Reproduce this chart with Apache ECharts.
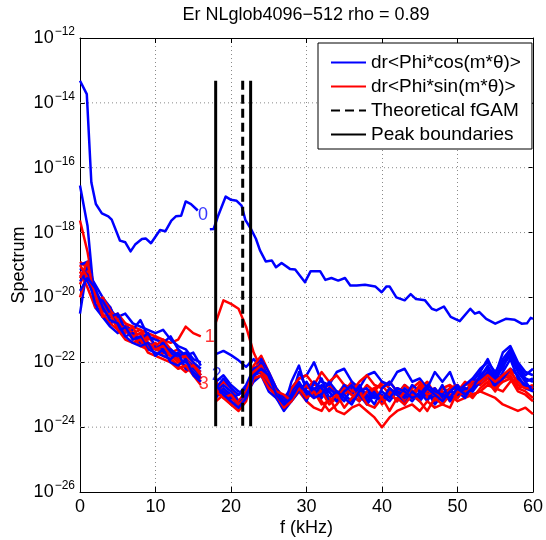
<!DOCTYPE html>
<html><head><meta charset="utf-8">
<script src="https://cdn.jsdelivr.net/npm/echarts@6/dist/echarts.min.js"></script>
<style>html,body{margin:0;padding:0;background:#fff}#c{width:546px;height:540px}</style>
</head><body><div id="c"></div>
<script>
const titleText = 'Er NLglob4096\u2212512 rho = 0.89';
const legendNames = ['dr<Phi*cos(m*\u03b8)>', 'dr<Phi*sin(m*\u03b8)>', 'Theoretical fGAM', 'Peak boundaries'];
const xTicks = [0, 10, 20, 30, 40, 50, 60];
const yTickExponents = [-26, -24, -22, -20, -18, -16, -14, -12];

// m = 0 (blue) : frequency (kHz) and log10(spectrum)
const m0Freq = [0, 0.9, 1.5, 2.1, 2.9, 3.75, 4.2, 5.3, 6.0, 6.7, 7.3, 8.2, 8.7, 9.4, 10.6, 11.3, 12.1, 12.7, 13.4, 14.0, 14.7, 15.6, 16.4, 17.2, 17.7, 18.3, 19.3, 20.0, 20.75, 21.4, 21.9, 22.65, 23.3, 23.84, 24.6, 25.4, 25.96, 26.7, 27.8, 28.5, 29.8, 30.55, 31.8, 32.5, 33.3, 34.2, 35.1, 35.8, 36.65, 37.75, 39.1, 39.96, 40.6, 41.0, 41.9, 43.0, 43.8, 44.5, 45.7, 46.6, 47.2, 48.2, 49.1, 50.3, 51.7, 52.3, 52.9, 53.8, 55.0, 56.4, 57.6, 58.5, 59.2, 59.7, 60];
const m0Log = [-13.32, -13.73, -16.45, -17.12, -17.41, -17.5, -17.6, -18.25, -18.3, -18.58, -18.37, -18.2, -18.18, -18.33, -17.92, -17.96, -17.63, -17.5, -17.48, -17.04, -17.12, -17.32, null, -17.9, -17.89, -17.48, -16.89, -16.99, -17.02, -17.17, -17.61, -17.89, -18.19, -18.55, -18.89, -18.86, -19.07, -18.94, -19.12, -19.14, -19.53, -19.19, -19.19, -19.46, -19.4, -19.48, -19.4, -19.63, -19.63, -19.61, -19.66, -19.84, -19.66, -19.66, -20.0, -20.09, -19.9, -20.05, -20.09, -20.35, -20.4, -20.28, -20.6, -20.73, -20.35, -20.5, -20.45, -20.66, -20.81, -20.66, -20.69, -20.81, -20.8, -20.63, -20.66];

// other modes: frequency grid (kHz) and log10(spectrum)
const modeFreq = [0,1,2,3,4,5,6,7,8,9,10,11,12,13,14,15,16,17,18,19,20,21,22,23,24,25,26,27,28,29,30,31,32,33,34,35,36,37,38,39,40,41,42,43,44,45,46,47,48,49,50,51,52,53,54,55,56,57,58,59,60];

const redM1 = [-17.63,-18.6,-19.9,-20.2,-20.5,-20.6,-20.8,-20.9,-21.0,-21.1,
 -21.2,-21.3,-21.4,-21.3,-20.9,-21.1,-21.2,null,-20.76,-20.09,
 -20.2,-20.35,-20.9,-21.7,-22.2,-22.7,-22.9,-23.2,-23.0,-22.8,
 -22.9,-23.1,-22.8,-22.7,-23.0,-22.9,-22.6,-22.9,-23.1,-22.8,
 -22.7,-23.0,-22.8,-22.9,-23.1,-22.7,-22.9,-23.2,-22.8,-22.9,
 -23.0,-22.7,-22.6,-22.5,-22.3,-22.6,-22.4,-22.5,-22.8,-22.7,
 -22.8];
const blueM2 = [-16.55,-17.8,-20.3,-20.6,-20.8,-20.7,-21.0,-21.2,-21.1,-21.4,
 -21.5,-21.6,-21.8,-21.7,-21.9,-22.1,-22.3,null,-21.75,-21.65,
 -21.78,-21.94,-22.14,-21.9,-22.2,-22.6,-23.0,-23.3,-23.1,-22.3,
 -22.8,-22.6,-23.0,-22.9,-23.2,-22.8,-23.0,-22.7,-23.1,-22.9,
 -23.2,-22.8,-23.0,-22.7,-22.9,-23.1,-22.8,-23.0,-22.9,-23.1,
 -22.8,-22.9,-22.6,-22.3,-21.9,-22.4,-21.7,-21.5,-22.0,-22.3,
 -22.4];
const redM3 = [-18.9,-19.1,-19.9,-20.4,-20.3,-20.9,-21.0,-21.3,-21.2,-21.4,
 -21.6,-21.7,-21.8,-22.0,-22.1,-22.3,-22.6,null,-22.6,-22.9,
 -23.1,-23.3,-22.9,-22.1,-21.8,-22.3,-22.8,-23.1,-22.9,-22.7,
 -22.8,-22.6,-22.9,-22.8,-23.0,-22.7,-22.8,-23.0,-22.7,-22.9,
 -22.6,-22.8,-23.0,-22.7,-22.9,-22.8,-22.6,-23.0,-22.8,-22.7,
 -22.9,-22.6,-22.8,-22.5,-22.4,-22.7,-22.5,-22.3,-22.6,-22.8,
 -22.7];
const blueM4 = [-19.0,-18.9,-19.8,-20.2,-20.4,-20.6,-20.5,-20.8,-20.9,-21.0,
 -21.1,-21.0,-21.3,-21.5,-21.6,-21.9,-22.0,null,-22.6,-22.4,
 -22.7,-22.9,-23.0,-22.3,-21.9,-22.3,-22.8,-23.1,-22.8,-22.5,
 -22.4,-22.0,-22.6,-22.7,-22.3,-22.2,-22.6,-22.8,-22.4,-22.3,
 -22.6,-22.7,-22.3,-22.2,-22.6,-22.5,-22.8,-22.3,-22.6,-22.3,
 -22.9,-22.7,-22.5,-22.2,-22.0,-22.3,-21.9,-21.6,-22.1,-22.4,
 -22.2];
const redM5 = [-19.6,-19.0,-19.8,-20.2,-20.6,-20.5,-20.8,-21.1,-21.0,-21.3,
 -21.2,-21.5,-21.7,-21.6,-21.9,-22.2,-22.3,null,-22.9,-22.6,
 -22.8,-23.2,-23.0,-22.2,-22.0,-22.5,-23.0,-23.4,-23.1,-22.8,
 -23.1,-22.8,-23.2,-23.5,-23.3,-23.0,-22.8,-23.1,-23.2,-22.9,
 -23.3,-23.0,-22.8,-23.1,-23.0,-22.8,-23.1,-23.0,-22.9,-23.2,
 -23.0,-22.9,-23.1,-22.8,-22.6,-22.9,-22.5,-22.4,-22.8,-22.9,
 -23.1];
const blueM6 = [-19.5,-19.2,-19.6,-20.0,-20.3,-20.8,-20.9,-21.0,-20.7,-21.2,
 -21.3,-21.4,-21.2,-21.6,-21.8,-21.7,-22.1,null,-22.9,-22.7,
 -22.9,-23.2,-22.9,-22.5,-22.0,-22.5,-23.0,-23.3,-22.9,-22.6,
 -23.0,-22.8,-23.1,-22.8,-23.0,-23.2,-22.8,-22.9,-23.2,-22.9,
 -23.1,-22.9,-23.2,-22.8,-23.0,-23.2,-22.9,-23.3,-23.0,-22.8,
 -23.1,-22.8,-22.9,-22.4,-22.2,-22.6,-22.1,-21.8,-22.3,-22.6,
 -22.5];
const redM7 = [-19.2,-19.7,-20.3,-20.0,-20.4,-20.7,-21.1,-20.9,-21.4,-21.2,
 -21.5,-21.3,-21.6,-21.9,-21.8,-22.0,-22.4,null,-22.8,-23.1,
 -23.3,-23.5,-23.2,-22.4,-22.2,-22.7,-23.1,-23.3,-22.8,-22.5,
 -22.4,-22.7,-22.3,-22.6,-22.4,-22.7,-22.9,-22.6,-22.4,-22.7,
 -22.8,-22.6,-22.9,-23.2,-22.8,-22.6,-22.9,-22.8,-23.1,-22.8,
 -22.7,-23.0,-22.6,-22.7,-22.5,-22.8,-22.9,-22.6,-22.5,-22.7,
 -22.9];
const blueM8 = [-20.5,-19.0,-19.9,-20.4,-20.6,-20.5,-21.0,-21.2,-21.3,-21.1,
 -21.5,-21.7,-21.6,-21.8,-21.7,-22.0,-22.2,null,-22.8,-22.5,
 -22.8,-23.0,-22.7,-22.2,-22.1,-22.6,-23.1,-23.4,-22.6,-22.1,
 -22.9,-22.9,-22.5,-23.1,-22.9,-23.0,-23.2,-22.8,-23.0,-23.3,
 -22.8,-22.6,-22.9,-23.1,-22.7,-22.9,-23.2,-22.8,-23.1,-22.9,
 -22.7,-23.0,-22.8,-22.6,-22.3,-22.8,-22.5,-22.2,-22.4,-22.8,
 -22.9];
const redM9 = [-20.0,-19.2,-20.0,-20.5,-20.8,-21.0,-20.9,-21.2,-21.5,-21.6,
 -21.4,-21.8,-21.9,-22.1,-22.3,-22.1,-22.5,null,-23.0,-22.8,
 -23.2,-23.4,-23.0,-22.3,-22.1,-22.6,-22.9,-23.2,-23.0,-22.9,
 -23.2,-23.4,-23.5,-23.1,-23.5,-23.6,-23.4,-23.3,-23.5,-23.7,
 -24.0,-23.7,-23.5,-23.4,-23.3,-23.5,-23.2,-23.4,-23.3,-23.0,
 -23.2,-23.1,-23.0,-22.9,-22.7,-22.8,-22.6,-22.5,-22.9,-23.0,
 -23.2];
const blueM10 = [-19.3,-19.5,-20.0,-20.1,-20.5,-20.9,-21.2,-21.1,-21.4,-21.5,
 -21.6,-21.4,-21.7,-21.9,-22.0,-22.2,-22.4,null,-23.0,-22.9,
 -23.1,-23.0,-22.8,-22.4,-22.3,-22.7,-22.9,-23.2,-23.0,-22.8,
 -23.2,-22.6,-22.8,-23.2,-23.1,-22.7,-23.0,-23.2,-22.9,-23.1,
 -23.0,-23.2,-22.9,-23.0,-23.2,-22.9,-23.0,-23.1,-22.7,-23.2,
 -22.9,-23.1,-22.7,-22.5,-22.1,-22.5,-22.0,-21.7,-22.2,-22.5,
 -22.6];
const redM11 = [-19.4,-18.9,-20.1,-20.3,-20.7,-20.8,-21.0,-21.2,-21.1,-21.5,
 -21.6,-21.5,-21.8,-21.9,-22.2,-22.1,-22.4,null,-23.2,-23.0,
 -23.3,-23.2,-22.9,-22.3,-22.3,-22.6,-22.9,-23.0,-23.2,-22.9,
 -22.7,-23.0,-22.9,-23.3,-23.1,-22.8,-23.0,-23.2,-22.9,-22.8,
 -23.1,-22.9,-23.2,-22.9,-23.1,-22.7,-23.0,-22.9,-23.2,-22.9,
 -23.1,-22.8,-23.0,-22.9,-23.0,-23.1,-23.3,-23.4,-23.5,-23.4,
 -23.6];
const blueM12 = [-19.1,-19.3,-20.2,-20.6,-20.9,-21.1,-20.9,-21.3,-21.2,-21.6,
 -21.7,-21.8,-21.9,-21.7,-22.2,-22.3,-22.5,null,-23.1,-22.8,
 -23.0,-23.3,-23.0,-22.6,-22.4,-22.9,-23.1,-23.5,-23.2,-22.9,
 -22.6,-23.0,-22.7,-22.9,-23.2,-22.9,-22.7,-23.0,-23.3,-23.0,
 -23.2,-22.8,-23.0,-23.3,-22.9,-23.1,-22.8,-23.0,-23.2,-22.9,
 -23.0,-22.8,-22.9,-22.6,-22.4,-22.7,-22.3,-21.9,-22.5,-22.7,
 -22.8];
const redM13 = [-19.0,-19.4,-19.8,-20.6,-20.5,-21.0,-21.3,-21.4,-21.3,-21.7,
 -21.8,-21.9,-22.0,-22.2,-22.1,-22.4,-22.7,null,-22.9,-23.1,
 -23.0,-23.3,-23.1,-22.5,-22.4,-22.8,-23.0,-23.4,-23.2,-22.8,
 -23.1,-22.9,-23.3,-23.2,-23.0,-23.4,-23.1,-22.9,-23.3,-23.4,
 -23.1,-23.5,-23.1,-23.3,-23.0,-23.2,-23.5,-23.1,-23.3,-23.4,
 -22.9,-23.0,-22.7,-22.6,-22.4,-22.6,-22.4,-22.2,-22.7,-22.8,
 -22.8];
const blueM14 = [-19.8,-19.4,-19.7,-20.3,-20.7,-20.8,-21.2,-21.4,-21.5,-21.4,
 -21.8,-21.6,-22.0,-22.1,-21.9,-22.4,-22.6,null,-22.7,-23.0,
 -23.2,-23.4,-23.1,-22.4,-22.2,-22.4,-23.0,-23.3,-23.1,-22.7,
 -22.9,-23.1,-23.0,-22.6,-22.9,-23.1,-23.3,-22.9,-22.8,-23.1,
 -22.9,-23.1,-22.8,-22.9,-23.1,-23.0,-22.7,-22.9,-23.0,-23.1,
 -22.8,-23.0,-22.8,-22.4,-22.2,-22.4,-22.2,-21.6,-22.1,-22.6,
 -22.9];

// marker lines (kHz) and their vertical extent (log10)
const fGAM = 21.55;
const peakBounds = [17.97, 22.6];
const markerLogSpan = [-13.32, -23.97];

// mode number labels: text, frequency, log10(spectrum)
const labelTexts = ['0', '1', '2', '3'];
const labelFreq = [16.3, 17.2, 18.1, 16.4];
const labelLog = [-17.46, -21.23, -22.4, -22.68];

const BLUE = '#0000ff', RED = '#ff0000';
const FONT = 'Liberation Sans, Arial, Helvetica, sans-serif';
const toVal = e => (e === null ? '-' : Math.pow(10, e));
const pairs = (fs, ls) => fs.map((f, i) => [f, toVal(ls[i])]);
const yTickValues = yTickExponents.map(e => Math.pow(10, e));

const modeSeries = [
  [redM1, RED], [blueM2, BLUE], [redM3, RED], [blueM4, BLUE], [redM5, RED], [blueM6, BLUE],
  [redM7, RED], [blueM8, BLUE], [redM9, RED], [blueM10, BLUE], [redM11, RED], [blueM12, BLUE],
  [redM13, RED], [blueM14, BLUE]
];

function lineSeries(name, data, color, width, type, z) {
  return {
    type: 'line', name, data, symbol: 'none', showSymbol: false, silent: true,
    connectNulls: false, animation: false, z: z || 2,
    lineStyle: { color, width, type: type || 'solid', join: 'round' },
    itemStyle: { color },
    emphasis: { disabled: true }
  };
}

const gridDots = { color: '#8a8a8a', type: [1, 3], width: 1 };
const series = [];
// horizontal dotted grid lines at the labelled decades, drawn through the axes
const hGrid = [];
yTickValues.slice(1, -1).forEach(v => {
  hGrid.push([xTicks[0], v], [xTicks[xTicks.length - 1], v], [xTicks[xTicks.length - 1], '-']);
});
series.push(lineSeries('grid', hGrid, '#8a8a8a', 1, [1, 3], 1));
series.push(lineSeries(legendNames[0], pairs(m0Freq, m0Log), BLUE, 2.5));
modeSeries.forEach(([arr, col]) => {
  series.push(lineSeries(col === BLUE ? legendNames[0] : legendNames[1], pairs(modeFreq, arr), col, 2.5));
});
series.push({
  type: 'scatter', name: 'labels', silent: true, animation: false, z: 3,
  symbolSize: 0,
  data: labelTexts.map((t, i) => ({
    value: [labelFreq[i], toVal(labelLog[i])],
    label: { formatter: t, color: (t === '0' || t === '2') ? BLUE : RED }
  })),
  label: { show: true, position: 'inside', fontSize: 18, fontFamily: FONT }
});
series.push(lineSeries(legendNames[2],
  [[fGAM, toVal(markerLogSpan[0])], [fGAM, toVal(markerLogSpan[1])]], '#000', 3, [9, 5], 5));
series.push(lineSeries(legendNames[3],
  [[peakBounds[0], toVal(markerLogSpan[0])], [peakBounds[0], toVal(markerLogSpan[1])], [peakBounds[0], '-'],
   [peakBounds[1], toVal(markerLogSpan[0])], [peakBounds[1], toVal(markerLogSpan[1])]], '#000', 3, 'solid', 5));

const axisLineStyle = { show: true, onZero: false, lineStyle: { color: '#000', width: 1 } };

const option = {
  animation: false,
  backgroundColor: '#fff',
  grid: { left: 80, right: 13, top: 38, bottom: 48, containLabel: false, outerBoundsMode: 'none' },
  graphic: [{
    type: 'text', x: 306, y: 15,
    style: { text: titleText, fill: '#000', font: '18px ' + FONT, textAlign: 'center', textVerticalAlign: 'middle' }
  }],
  legend: {
    data: legendNames, orient: 'vertical', left: 318, top: 43,
    selectedMode: false, backgroundColor: '#fff', borderColor: '#000', borderWidth: 1,
    padding: [10, 11, 5, 12], itemWidth: 35, itemHeight: 14, itemGap: 5,
    itemStyle: { opacity: 0 },
    textStyle: { fontSize: 19, lineHeight: 18, color: '#000', fontFamily: FONT }
  },
  xAxis: [{
    type: 'value', min: 0, max: 60, interval: 10,
    name: 'f (kHz)', nameLocation: 'middle', nameGap: 27, nameMoveOverlap: false,
    nameTextStyle: { fontSize: 18, color: '#000', fontFamily: FONT },
    axisLine: axisLineStyle,
    axisTick: { show: true, inside: true, length: 5, lineStyle: { color: '#000' } },
    axisLabel: { fontSize: 18, color: '#000', fontFamily: FONT, margin: 6, customValues: xTicks },
    splitLine: { show: true, lineStyle: gridDots }
  }, {
    type: 'value', position: 'top', min: 0, max: 60, interval: 10,
    axisLine: axisLineStyle,
    axisTick: { show: true, inside: true, length: 5, lineStyle: { color: '#000' } },
    axisLabel: { show: false }, splitLine: { show: false }
  }],
  yAxis: [{
    type: 'log', logBase: 10, min: 1e-26, max: 1e-12,
    name: 'Spectrum', nameLocation: 'middle', nameGap: 52, nameMoveOverlap: false,
    nameTextStyle: { fontSize: 18, color: '#000', fontFamily: FONT },
    axisLine: axisLineStyle,
    axisTick: { show: true, inside: true, length: 5, lineStyle: { color: '#000' }, customValues: yTickValues },
    minorTick: { show: false },
    splitLine: { show: false },
    axisLabel: {
      margin: 5, color: '#000', fontFamily: FONT, customValues: yTickValues,
      formatter: v => {
        const e = Math.round(Math.log10(v));
        return '{b|10}{s|\u2212' + (-e) + '}';
      },
      rich: {
        b: { fontSize: 18, fontFamily: FONT, color: '#000', verticalAlign: 'bottom', padding: [0, 0, 3, 0] },
        s: { fontSize: 12, fontFamily: FONT, color: '#000', verticalAlign: 'top', padding: [0, 0, 12, 1] }
      }
    }
  }, {
    type: 'log', logBase: 10, min: 1e-26, max: 1e-12, position: 'right',
    axisLine: axisLineStyle,
    axisTick: { show: true, inside: true, length: 5, lineStyle: { color: '#000' }, customValues: yTickValues },
    axisLabel: { show: false }, splitLine: { show: false }, minorTick: { show: false }
  }],
  series
};

const chart = echarts.init(document.getElementById('c'), null, { renderer: 'canvas' });
chart.setOption(option);
</script>
</body></html>
